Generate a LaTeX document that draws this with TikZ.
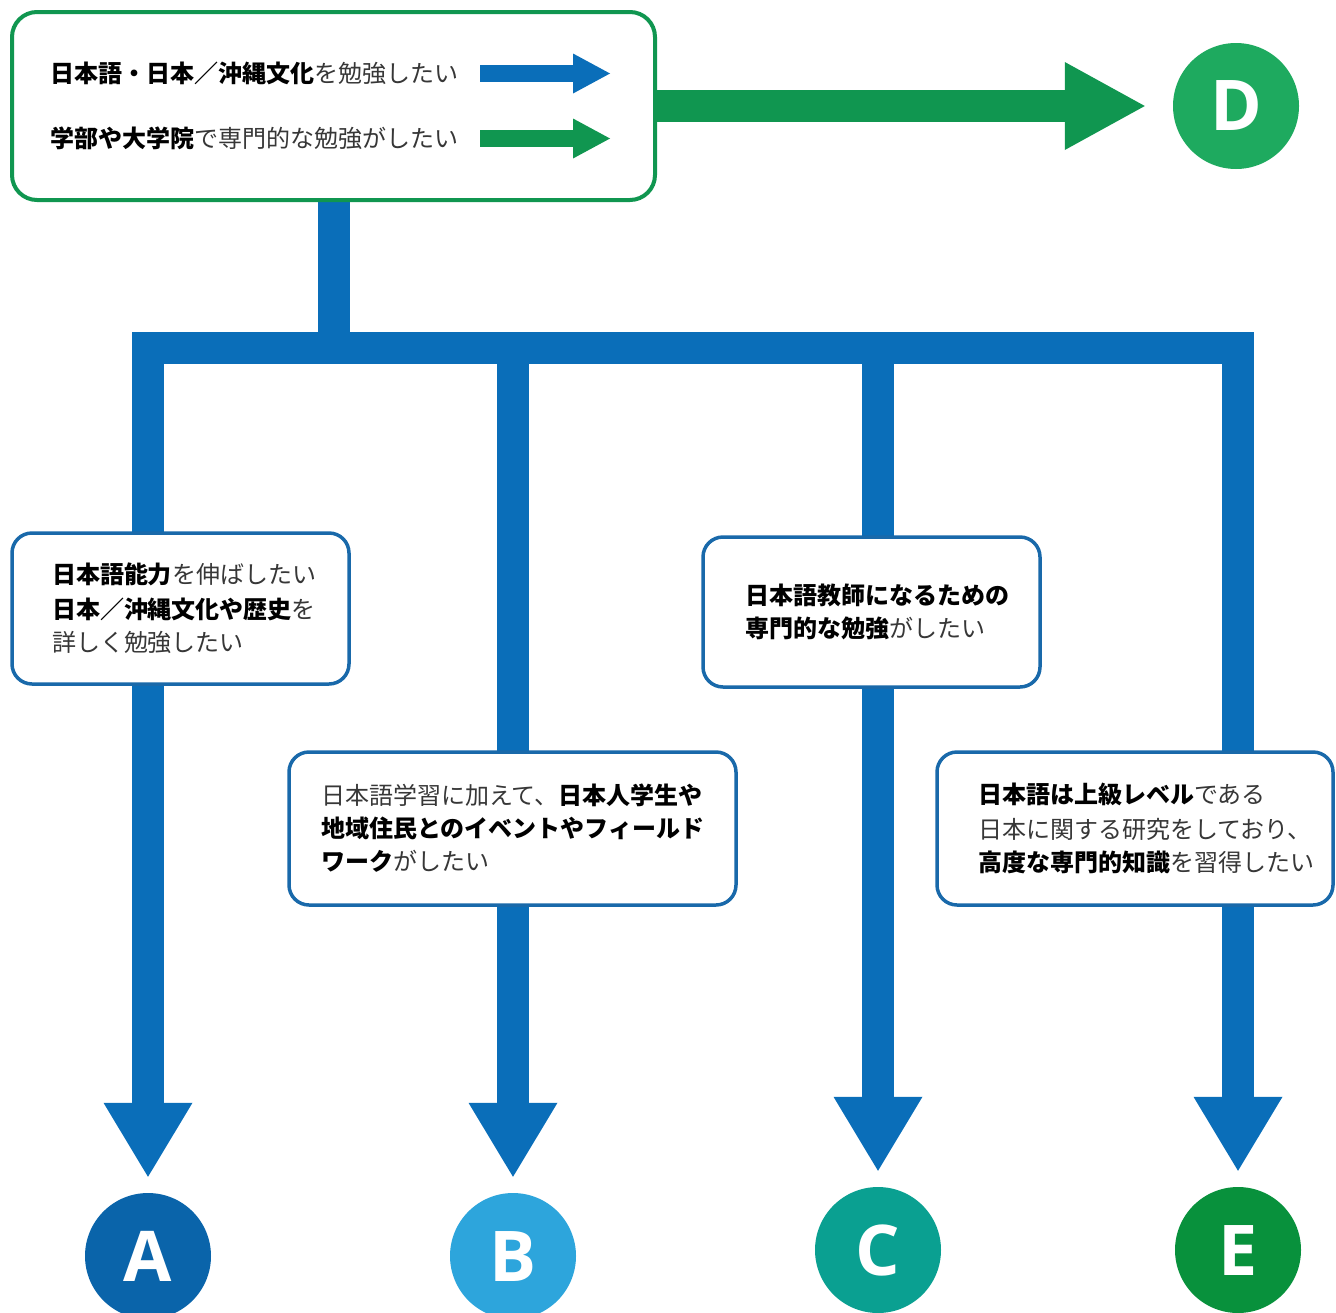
\documentclass[tikz,border=0pt]{standalone}
\usepackage{fontspec}
\setmainfont{Noto Sans CJK JP}
\newfontfamily\letterfont{Open Sans}
\usepackage{xcolor}
\usetikzlibrary{arrows.meta,backgrounds}

\definecolor{barblue}{RGB}{10,110,185}
\definecolor{boxblue}{RGB}{25,105,170}
\definecolor{flowgreen}{RGB}{16,150,80}
\definecolor{txtgray}{RGB}{55,55,55}
\definecolor{goalA}{RGB}{10,100,170}
\definecolor{goalB}{RGB}{45,165,220}
\definecolor{goalC}{RGB}{10,160,145}
\definecolor{goalD}{RGB}{30,170,95}
\definecolor{goalE}{RGB}{8,145,60}

\newcommand{\kw}[1]{{\bfseries\color{black}#1}}

\begin{document}
\begin{tikzpicture}[x=1pt, y=-1pt,
   bar/.style={draw=barblue, line width=32pt},
   bighead/.style={-{Triangle[width=89pt,length=74pt,line width=0pt]}},
   smallhead/.style={-{Triangle[width=40pt,length=37pt,line width=0pt]}},
   choice/.style={draw=boxblue, line width=3.5pt, rounded corners=20pt, fill=white,
      align=left, inner ysep=0pt, text=txtgray, font=\fontsize{24}{33}\selectfont},
   linetext/.style={anchor=west, inner sep=0pt, text=txtgray, font=\fontsize{24}{33}\selectfont},
   goal/.style={circle, minimum size=126pt, inner sep=0pt, text=white,
      font=\letterfont\bfseries\fontsize{70}{70}\selectfont}]
   \useasboundingbox (0,0) rectangle (1336,1312);

   % Start box
   \node[draw=flowgreen, line width=4pt, rounded corners=25pt, fill=white,
      minimum width=643pt, minimum height=188pt, inner sep=0pt] (top) at (333.5,106) {};
   \node[linetext] (l1) at (50,73.5) {\kw{日本語・日本／沖縄文化}を勉強したい};
   \node[linetext] (l2) at (50,138.5) {\kw{学部や大学院}で専門的な勉強がしたい};
   \coordinate (a1) at (480,73.5);
   \coordinate (a1end) at (610,73.5);
   \coordinate (a2) at (480,138.5);
   \coordinate (a2end) at (610,138.5);
   \draw[draw=barblue, line width=17pt, smallhead] (a1) -- (a1end);
   \draw[draw=flowgreen, line width=17pt, smallhead] (a2) -- (a2end);

   % Choice boxes
   \node[choice, text width=257pt, inner xsep=40pt, minimum height=151pt] (bA) at (180.5,608.5)
      {\kw{日本語能力}を伸ばしたい\\[2pt]\kw{日本／沖縄文化や歴史}を\\詳しく勉強したい};
   \node[choice, text width=383pt, inner xsep=32pt, minimum height=153pt] (bB) at (512.5,828.5)
      {日本語学習に加えて、\kw{日本人学生や}\\\kw{地域住民とのイベントやフィールド}\\\kw{ワーク}がしたい};
   \node[choice, text width=253pt, inner xsep=42pt, minimum height=150pt] (bC) at (871.5,612)
      {\kw{日本語教師になるための}\\\kw{専門的な勉強}がしたい};
   \node[choice, text width=314pt, inner xsep=41pt, minimum height=153pt] (bE) at (1135,828.5)
      {\kw{日本語は上級レベル}である\\[2pt]日本に関する研究をしており、\\\kw{高度な専門的知識}を習得したい};

   % Goals
   \node[goal, fill=goalD] (D) at (1236,106) {D};
   \node[goal, fill=goalA] (cA) at (148,1256) {A};
   \node[goal, fill=goalB] (cB) at (513,1256) {B};
   \node[goal, fill=goalC] (cC) at (878,1250) {C};
   \node[goal, fill=goalE] (cE) at (1238,1250) {E};

   % Junctions
   \coordinate (jA) at (148,348);
   \coordinate (jB) at (513,348);
   \coordinate (jC) at (878,348);
   \coordinate (jE) at (1238,348);
   \coordinate (hub) at (top.south |- jA);

   % Bars
   \draw[draw=flowgreen, line width=32pt, -{Triangle[width=88pt,length=80pt,line width=0pt]}]
      (top.east) -- ([xshift=-28pt]D.west);
   \begin{scope}[on background layer]
      \draw[bar] (top.south) -- (hub);
      \draw[bar] ([xshift=-16pt]jA) -- ([xshift=16pt]jE);
      \draw[bar, bighead] (jA) -- ([yshift=16pt]cA.north);
      \draw[bar, bighead] (jB) -- ([yshift=16pt]cB.north);
      \draw[bar, bighead] (jC) -- ([yshift=16pt]cC.north);
      \draw[bar, bighead] (jE) -- ([yshift=16pt]cE.north);
   \end{scope}
\end{tikzpicture}
\end{document}
